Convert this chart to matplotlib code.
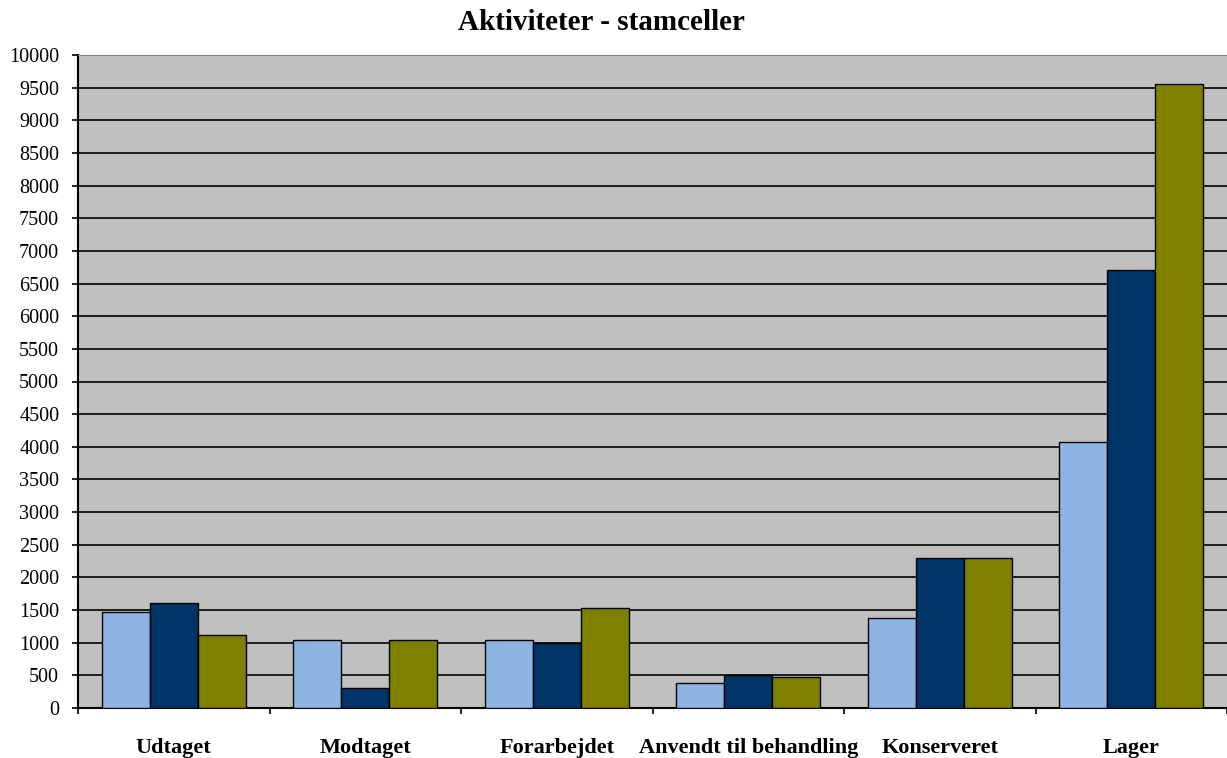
import matplotlib
matplotlib.use('Agg')
import matplotlib.pyplot as plt
import numpy as np

categories = ['Udtaget', 'Modtaget', 'Forarbejdet', 'Anvendt til behandling',
              'Konserveret', 'Lager']
series_a = [1470, 1040, 1040, 380, 1380, 4080]
series_b = [1610, 300, 1000, 500, 2300, 6700]
series_c = [1120, 1040, 1530, 470, 2300, 9550]
yticks = list(range(0, 10001, 500))

colors = ['#8EB4E3', '#003366', '#808000']

plt.rcParams['font.family'] = ['Liberation Serif', 'DejaVu Serif']

W, H = 1227, 758
fig = plt.figure(figsize=(W / 100, H / 100), dpi=100)
ax = fig.add_axes([78 / W, 50 / H, (W - 78) / W, 653 / H])
ax.set_facecolor('#C0C0C0')

x = np.arange(len(categories)) + 0.5
bw = 0.25
for k, (vals, c) in enumerate(zip([series_a, series_b, series_c], colors)):
    ax.bar(x + (k - 1) * bw, vals, width=bw, color=c, edgecolor='black',
           linewidth=1.0, zorder=3)

ax.set_xlim(0, len(categories))
ax.set_ylim(0, 10000)
ax.set_yticks(yticks)
ax.set_yticklabels([str(v) for v in yticks], fontsize=14.5)
ax.yaxis.grid(True, color='black', linewidth=1.2, zorder=1)
ax.set_axisbelow(True)

ax.set_xticks(np.arange(len(categories) + 1))
ax.set_xticklabels([])
ax.set_xticks(x, minor=True)
ax.set_xticklabels(categories, minor=True, fontsize=16, fontweight='bold')
ax.tick_params(axis='x', which='major', length=4.5, width=1.2, direction='out')
ax.tick_params(axis='x', which='minor', length=0, pad=21.5)
ax.tick_params(axis='y', length=4.5, width=1.2, direction='out', pad=9)

ax.spines['top'].set_color('#808080')
ax.spines['right'].set_visible(False)
ax.spines['left'].set_linewidth(1.5)
ax.spines['bottom'].set_linewidth(1.5)

fig.text(601 / W, 1 - 23 / H, 'Aktiviteter - stamceller', fontsize=21,
         fontweight='bold', ha='center', va='center')

fig.savefig('out.png', dpi=100)
